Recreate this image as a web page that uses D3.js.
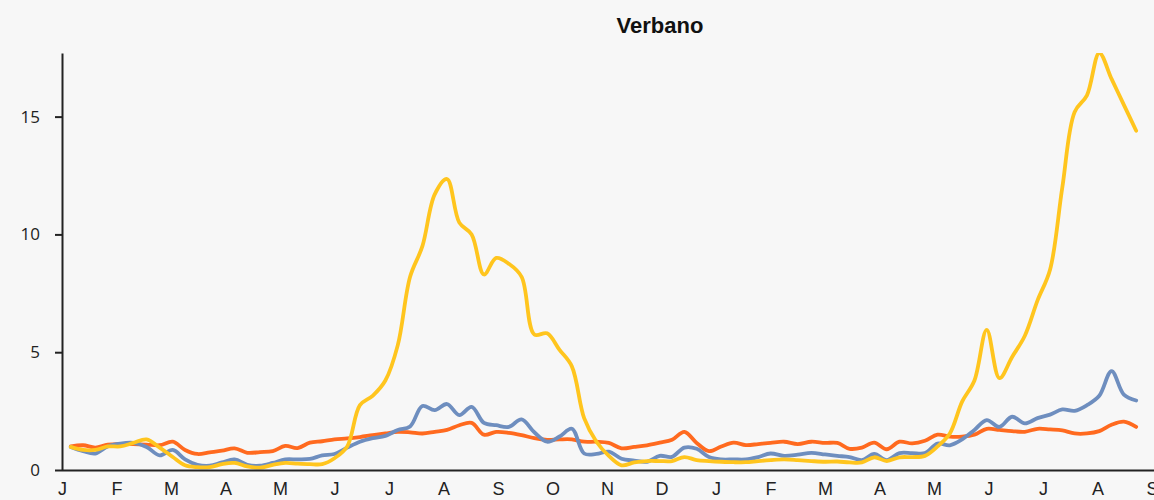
<!DOCTYPE html>
<html lang="en">
<head>
<meta charset="utf-8">
<title>Verbano</title>
<script src="https://cdn.jsdelivr.net/npm/d3@7"></script>
<style>
  body { margin: 0; background: #f7f7f7; }
  svg { display: block; background: #f7f7f7; }
  .title { font-family: "Liberation Sans Narrow", "Arial Narrow", "Liberation Sans", Arial, sans-serif; font-weight: bold; font-size: 22px; fill: #111; }
  .yaxis text { font-family: "Open Sans", "Liberation Sans", sans-serif; font-size: 17px; fill: #222; }
  .xaxis text { font-family: "Liberation Sans Narrow", "Arial Narrow", "Liberation Sans", sans-serif; font-size: 18px; fill: #222; }
  .axis path, .axis line { stroke: #222; stroke-width: 2px; }
  .series { fill: none; stroke-width: 3.8px; stroke-linejoin: round; stroke-linecap: round; }
</style>
</head>
<body>
<div id="chart"></div>
<script>
// data: weekly values, first week starting 2020-01-06
const firstWeek = "2020-01-06";
const monthLabels = ["J","F","M","A","M","J","J","A","S","O","N","D","J","F","M","A","M","J","J","A","S"];
const yTicks = [0, 5, 10, 15];

const orange = [1.0,1.05,0.95,1.08,1.1,1.1,1.08,1.05,1.2,0.85,0.68,0.75,0.82,0.92,0.73,0.76,0.8,1.02,0.93,1.16,
  1.22,1.3,1.34,1.4,1.48,1.55,1.62,1.6,1.55,1.62,1.7,1.9,2.0,1.5,1.62,1.58,1.48,1.35,1.28,1.3,
  1.3,1.2,1.2,1.15,0.92,0.98,1.05,1.16,1.28,1.62,1.15,0.8,1.0,1.16,1.06,1.1,1.15,1.2,1.1,1.2,
  1.15,1.15,0.9,0.95,1.16,0.88,1.2,1.13,1.24,1.5,1.42,1.42,1.5,1.75,1.7,1.65,1.62,1.75,1.72,1.68,
  1.55,1.55,1.65,1.92,2.05,1.83];
const blue = [0.98,0.8,0.7,1.0,1.12,1.15,0.98,0.62,0.85,0.45,0.22,0.18,0.32,0.45,0.22,0.18,0.3,0.45,0.45,0.47,
  0.62,0.68,0.95,1.2,1.35,1.45,1.7,1.85,2.72,2.54,2.8,2.33,2.68,2.0,1.9,1.83,2.15,1.6,1.2,1.42,
  1.75,0.7,0.68,0.78,0.48,0.4,0.35,0.6,0.56,0.95,0.9,0.55,0.45,0.45,0.45,0.55,0.7,0.6,0.65,0.73,
  0.66,0.6,0.55,0.42,0.68,0.42,0.72,0.72,0.72,1.12,1.05,1.3,1.7,2.12,1.83,2.26,1.98,2.2,2.35,2.57,
  2.51,2.75,3.15,4.2,3.2,2.95];
const yellow = [0.98,0.85,0.85,1.0,1.0,1.15,1.3,0.95,0.55,0.2,0.12,0.12,0.25,0.3,0.15,0.1,0.22,0.3,0.27,0.25,
  0.25,0.5,1.0,2.75,3.15,3.8,5.3,8.2,9.5,11.7,12.35,10.5,10.0,8.3,9.0,8.75,8.2,5.75,5.8,5.1,
  4.4,2.2,1.2,0.6,0.2,0.32,0.38,0.38,0.38,0.55,0.42,0.38,0.35,0.33,0.33,0.38,0.42,0.45,0.42,0.38,
  0.35,0.36,0.32,0.32,0.54,0.38,0.54,0.55,0.6,1.0,1.55,2.9,3.8,5.95,3.9,4.8,5.7,7.2,8.5,12.0,
  15.2,15.9,17.7,16.6,15.5,14.4];

const seriesList = [
  { values: orange, color: "#ff6a1f" },
  { values: blue,   color: "#6e8ebf" },
  { values: yellow, color: "#ffc51e" }
];

const width = 1154, height = 500;
const plotLeft = 62, plotRight = 1152, plotTop = 53, plotBottom = 470;

// week -> fractional month index (months equally spaced on the axis)
const start = d3.isoParse(firstWeek + "T00:00:00");
function monthPos(date) {
  const daysInMonth = new Date(date.getFullYear(), date.getMonth() + 1, 0).getDate();
  return (date.getFullYear() - 2020) * 12 + date.getMonth() + (date.getDate() - 1) / daysInMonth;
}
const weekPos = orange.map((d, i) => monthPos(d3.timeDay.offset(start, 7 * i)));

const x = d3.scaleLinear().domain([0, monthLabels.length - 1]).range([plotLeft, plotRight]);
const y = d3.scaleLinear().domain([0, 17.7]).range([plotBottom, plotTop]);

const svg = d3.select("#chart").append("svg")
  .attr("width", width).attr("height", height)
  .attr("viewBox", [0, 0, width, height]);

svg.append("text").attr("class", "title")
  .attr("x", 660).attr("y", 33).attr("text-anchor", "middle")
  .text("Verbano");

svg.append("defs").append("clipPath").attr("id", "plot")
  .append("rect").attr("x", plotLeft).attr("y", plotTop)
  .attr("width", width - plotLeft).attr("height", plotBottom - plotTop);

const line = d3.line()
  .x((d, i) => x(weekPos[i]))
  .y(d => y(d))
  .curve(d3.curveCatmullRom.alpha(0.5));

svg.append("g").attr("clip-path", "url(#plot)")
  .selectAll("path").data(seriesList).join("path")
  .attr("class", "series")
  .attr("stroke", d => d.color)
  .attr("d", d => line(d.values));

// axes
svg.append("g").attr("class", "axis yaxis")
  .attr("transform", `translate(${plotLeft},0)`)
  .call(d3.axisLeft(y).tickValues(yTicks).tickSize(7).tickSizeOuter(0).tickPadding(15));

const xAxis = svg.append("g").attr("class", "axis xaxis")
  .attr("transform", `translate(0,${plotBottom})`)
  .call(d3.axisBottom(x).tickValues(d3.range(monthLabels.length))
    .tickFormat(i => monthLabels[i]).tickSize(0).tickSizeOuter(0).tickPadding(12));
xAxis.select(".domain").attr("d", `M${plotLeft},0.5H${width}`);
</script>
</body>
</html>
